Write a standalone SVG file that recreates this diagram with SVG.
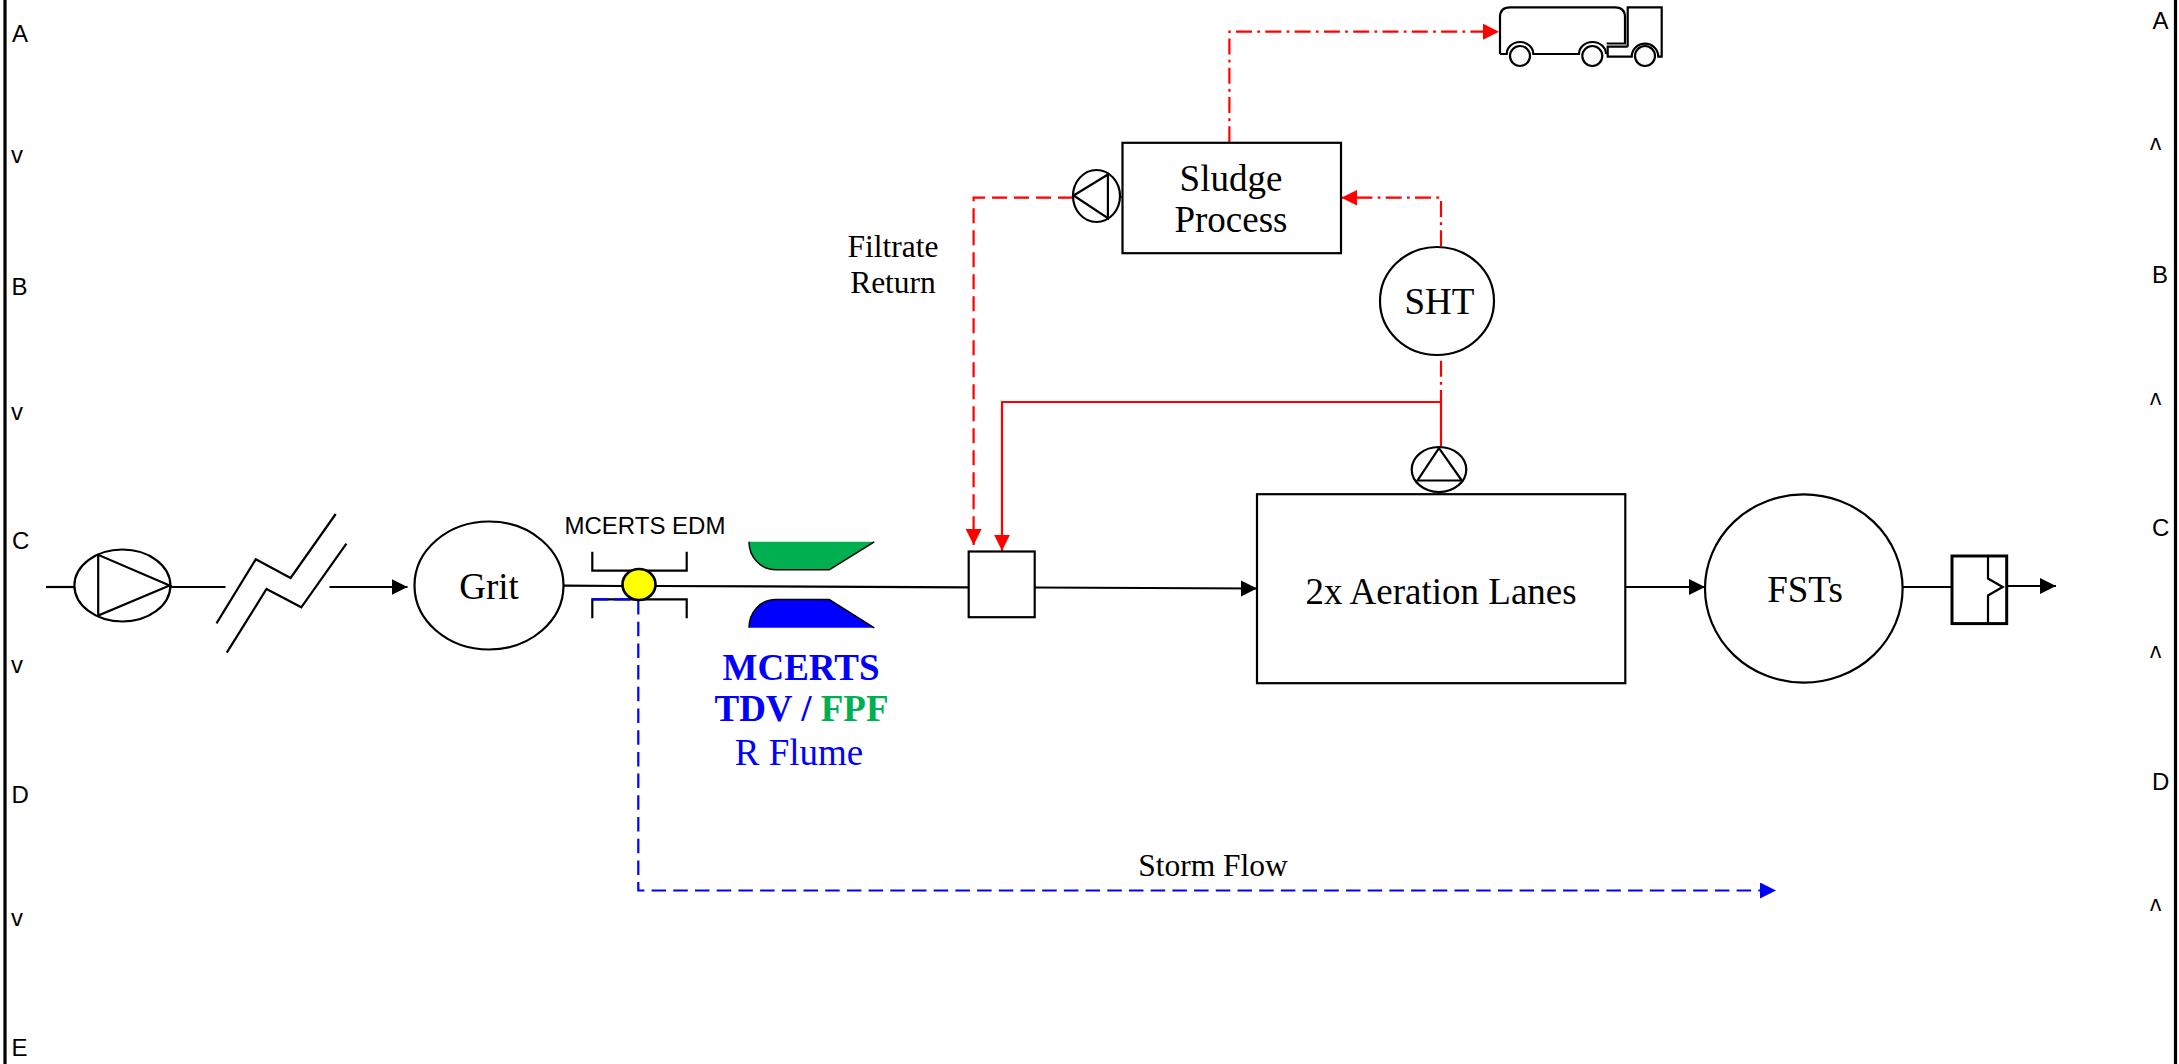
<svg xmlns="http://www.w3.org/2000/svg" width="2179" height="1064" viewBox="0 0 2179 1064">
<style>
.s{fill:none;stroke:#000;stroke-width:2.2}
.w{fill:#fff;stroke:#000;stroke-width:2.2}
.c{fill:none;stroke:#000;stroke-width:2.2}
.r{fill:none;stroke:#f00;stroke-width:2.2}
.dd{stroke-dasharray:16 5.300 2.700 5.300}
.da{stroke-dasharray:15 7}
.b{fill:none;stroke:#00f;stroke-width:2.2;stroke-dasharray:14.500 7.200}
.ti{font-family:"Liberation Serif","Times New Roman",serif;font-size:37px;text-anchor:middle;fill:#000}
.t3{font-family:"Liberation Serif","Times New Roman",serif;font-size:31.500px;text-anchor:middle;fill:#000}
.ar{font-family:"Liberation Sans",Arial,sans-serif;font-size:24px;fill:#000}
</style>
<defs>
<marker id="ak" markerUnits="userSpaceOnUse" markerWidth="17" markerHeight="17" refX="16" refY="8" orient="auto"><path d="M0 0L16 8L0 16Z" fill="#000"/></marker>
<marker id="ar" markerUnits="userSpaceOnUse" markerWidth="17" markerHeight="17" refX="16" refY="8" orient="auto"><path d="M0 0L16 8L0 16Z" fill="#f00"/></marker>
<marker id="ab" markerUnits="userSpaceOnUse" markerWidth="17" markerHeight="17" refX="16" refY="8" orient="auto"><path d="M0 0L16 8L0 16Z" fill="#00f"/></marker>
</defs>
<rect width="2179" height="1064" fill="#fff"/>
<g id="frame">
<path d="M5 0V1064M2175.500 0V1064" fill="none" stroke="#000" stroke-width="3.200"/>
<text class="ar" x="12" y="42">A</text><text class="ar" x="11" y="163">v</text><text class="ar" x="11.500" y="295">B</text><text class="ar" x="11" y="420">v</text><text class="ar" x="12" y="549">C</text><text class="ar" x="11" y="673">v</text><text class="ar" x="11.500" y="803">D</text><text class="ar" x="11" y="926">v</text><text class="ar" x="11.500" y="1056">E</text>
<text class="ar" x="2152.500" y="29">A</text><text class="ar" x="2152" y="283">B</text><text class="ar" x="2152" y="536">C</text><text class="ar" x="2152" y="790">D</text>
<text class="ar" transform="translate(2150 161.400) scale(1 1.350)">^</text>
<text class="ar" transform="translate(2150 415.700) scale(1 1.350)">^</text>
<text class="ar" transform="translate(2150 668.500) scale(1 1.350)">^</text>
<text class="ar" transform="translate(2150 921.500) scale(1 1.350)">^</text>
</g>
<g id="connectors">
<path class="c" d="M46 587H74"/>
<path class="c" d="M170.500 587H225.500"/>
<path class="c" d="M329.500 587H407.500" marker-end="url(#ak)"/>
<path class="c" d="M564 585.700L622 586"/>
<path class="c" d="M656 586L968.500 587.300"/>
<path class="c" d="M1034.700 587.500L1257 588.500" marker-end="url(#ak)"/>
<path class="c" d="M1625.500 587H1705" marker-end="url(#ak)"/>
<path class="c" d="M1903 587H1952"/>
<path class="c" d="M2007 586H2056" marker-end="url(#ak)"/>
<path class="b" d="M638.300 600V890.500H1776" marker-end="url(#ab)"/>
<path class="r dd" d="M1229.400 142.300V31.700H1499" marker-end="url(#ar)"/>
<path class="r dd" d="M1441 246.300V197.700H1341.400" marker-end="url(#ar)"/>
<path class="r dd" d="M1441 360.700V402"/>
<path class="r" d="M1441 491.700V493.700M1120 197H1122.500"/>
<path class="r" d="M1441 446.700V402H1002V550.700" marker-end="url(#ar)"/>
<path class="r da" d="M1073 197.700H973.600V545" marker-end="url(#ar)"/>
</g>
<g id="inlet-pump">
<ellipse class="w" cx="122.400" cy="585.500" rx="48" ry="36"/>
<path class="s" d="M98.200 554.800V615.500L169.600 585.500Z"/>
</g>
<g id="pipe-break">
<path class="s" d="M216.500 623.300L255.800 559.300L290.600 578L335.700 514"/>
<path class="s" d="M226.800 652.700L266.500 589L301.300 607.300L346.400 543.700"/>
</g>
<g id="grit">
<ellipse class="w" cx="489" cy="585.500" rx="74.500" ry="64"/>
<text class="ti" x="489" y="599">Grit</text>
</g>
<g id="mcerts-edm">
<text class="ar" x="564.500" y="534">MCERTS EDM</text>
<path class="s" d="M592.300 551.700V570.700H686.700V551.700"/>
<path class="s" d="M592.300 618.300V599.300H686.700V618.300"/>
<path d="M592.300 599.300H638" fill="none" stroke="#00f" stroke-width="2.200" stroke-dasharray="16 6"/>
<ellipse cx="639" cy="584.500" rx="16.500" ry="15.500" fill="#ff0" stroke="#000" stroke-width="2.600"/>
</g>
<g id="flume">
<path d="M749 541.800H874.300L829.300 569.800H776C760 569.800 749 556.500 749 541.800Z" fill="#00b050"/>
<path d="M874.300 541.800L829.300 569.800H776C760 569.800 749 556.500 749 541.800" fill="none" stroke="#000" stroke-width="1.500"/>
<path d="M749 627.800H874.300L829.300 599.500H776C760 599.500 749 612.500 749 627.800Z" fill="#00f"/>
<path d="M874.300 627.800L829.300 599.500H776C760 599.500 749 612.500 749 627.800" fill="none" stroke="#000" stroke-width="1.500"/>
<text x="801" y="679.500" class="ti" font-weight="bold" style="fill:#00f">MCERTS</text>
<text x="801.500" y="720.800" class="ti" font-weight="bold" style="fill:#00f">TDV / <tspan style="fill:#00b050">FPF</tspan></text>
<text x="799" y="765.200" class="ti" style="fill:#00f">R Flume</text>
</g>
<g id="junction-box">
<rect class="w" x="968.700" y="551.500" width="66" height="65.700"/>
</g>
<g id="aeration-lanes">
<rect class="w" x="1257" y="494.200" width="368.300" height="189"/>
<text class="ti" x="1441" y="603.500">2x Aeration Lanes</text>
</g>
<g id="ras-pump">
<ellipse class="w" cx="1439" cy="469.500" rx="27.300" ry="22.500"/>
<path class="s" d="M1439 448.200L1417.500 480.500H1461.800Z"/>
</g>
<g id="fsts">
<ellipse class="w" cx="1803.800" cy="588.500" rx="98.800" ry="94.200"/>
<text class="ti" x="1805" y="602">FSTs</text>
</g>
<g id="outfall">
<rect class="w" x="1952" y="556" width="54.700" height="67.600" style="stroke-width:3"/>
<path class="s" d="M1988 556.500V578.500L2002.700 587L1988 595.500V623.500"/>
</g>
<g id="sludge-process">
<rect class="w" x="1122.500" y="142.800" width="218.500" height="110.400"/>
<text class="ti" x="1231" y="190.500">Sludge</text>
<text class="ti" x="1231" y="232.200">Process</text>
</g>
<g id="filtrate-pump">
<ellipse class="w" cx="1096.500" cy="196" rx="23.500" ry="26"/>
<path class="s" d="M1073.600 195.500L1107.900 174.500V218.200Z"/>
</g>
<g id="sht">
<ellipse class="w" cx="1437" cy="301" rx="57" ry="54"/>
<text class="ti" x="1439.500" y="314">SHT</text>
</g>
<g id="tanker">
<path class="s" d="M1500 54V17.300Q1500 7.300 1510 7.300H1615Q1625 7.300 1625 17.300V43.500H1606.700"/>
<path class="s" d="M1500 54H1506.700A13.300 12 0 0 1 1533.300 54H1579A13.500 12 0 0 1 1606 54"/>
<path class="s" d="M1627.700 46.700V7.300H1661.700V56.700H1658.300A13.300 13 0 0 0 1631.700 56.700H1607.700V46.700H1627.700"/>
<circle class="w" cx="1520" cy="56" r="10"/>
<circle class="w" cx="1592.300" cy="56" r="10"/>
<circle class="w" cx="1645" cy="56" r="10"/>
</g>
<g id="labels">
<text class="t3" x="893" y="256.500">Filtrate</text>
<text class="t3" x="893" y="292.500">Return</text>
<text class="t3" x="1213" y="875.500">Storm Flow</text>
</g>
</svg>
